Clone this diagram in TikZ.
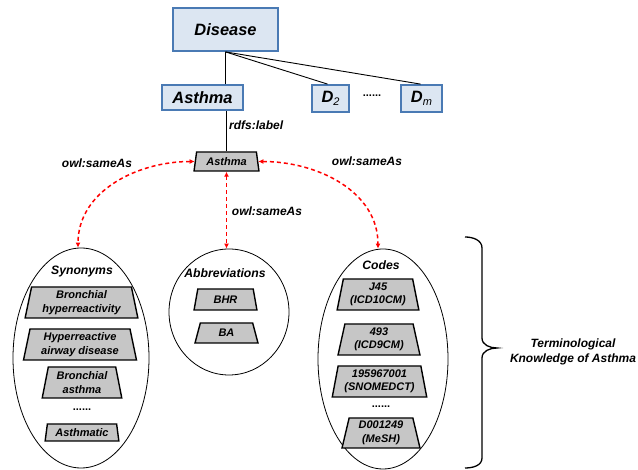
\documentclass[tikz,border=0pt]{standalone}
\usepackage{fontspec}
\setmainfont{Liberation Sans}
\usetikzlibrary{shapes.geometric,arrows.meta}

\definecolor{classfill}{RGB}{220,230,242}
\definecolor{classline}{RGB}{74,122,180}
\definecolor{termfill}{RGB}{198,198,198}
\definecolor{linkred}{RGB}{255,0,0}

\tikzset{
  classbox/.style={draw=classline, line width=1.8pt, fill=classfill,
    inner sep=0pt, font=\fontsize{16.4}{19}\selectfont\bfseries\itshape},
  term/.style={trapezium, trapezium left angle=78, trapezium right angle=78,
    trapezium stretches=true, draw=black, line width=1.4pt, fill=termfill,
    inner sep=0pt, align=center,
    font=\fontsize{11}{13.5}\selectfont\bfseries\itshape},
  group/.style={ellipse, draw=black, line width=0.8pt, inner sep=0pt},
  heading/.style={font=\fontsize{12.2}{14}\selectfont\bfseries\itshape, inner sep=0pt},
  rel/.style={font=\fontsize{12}{14}\selectfont\bfseries\itshape, inner sep=0pt},
  tree/.style={draw=black, line width=0.9pt},
  same/.style={draw=linkred, line width=1.5pt, dash pattern=on 4pt off 3pt,
    {Latex[length=5pt,width=5pt]}-{Latex[length=5pt,width=5pt]}},
  dots/.style={font=\fontsize{11}{12}\selectfont\bfseries, inner sep=0pt}
}

\begin{document}
\begin{tikzpicture}[x=1pt,y=1pt]
\useasboundingbox (0,0) rectangle (638,470);

% ontology classes
\node[classbox, minimum width=105pt, minimum height=43pt] (disease) at (225.5,440.5) {Disease};
\node[classbox, minimum width=81pt, minimum height=25pt] (asthma) at (202.5,372.5) {Asthma};
\node[classbox, minimum width=37pt, minimum height=27pt] (d2) at (330.5,371.5)
  {D\raisebox{-0.35ex}{\fontsize{11}{11}\selectfont\mdseries 2}};
\node[classbox, minimum width=41pt, minimum height=27pt] (dm) at (421.5,371.5)
  {D\raisebox{-0.35ex}{\fontsize{11}{11}\selectfont\mdseries m}};
\node[dots] (ddots) at (372,374) {......};

\coordinate (dtop) at (disease.south);
\draw[tree] (dtop) -- (dtop |- asthma.north);
\draw[tree] (dtop) -- ([xshift=-3pt]d2.north);
\draw[tree] (dtop) -- ([xshift=-1pt]dm.north);

% label of the class
\node[term, minimum width=65pt, minimum height=19pt, font=\fontsize{11}{12}\selectfont\bfseries\itshape] (lab) at (226.5,308.5) {Asthma};
\draw[tree] (lab.north) -- (lab.north |- asthma.south);
\node[rel, anchor=west] (rdfs) at (229,345) {rdfs:label};

% synonyms
\node[group, minimum width=136pt, minimum height=220pt] (syn) at (81,112) {};
\node[heading] (synh) at (82,198) {Synonyms};
\node[term, minimum width=113pt, minimum height=31pt] (s1) at (81.5,167.5) {Bronchial\\hyperreactivity};
\node[term, minimum width=114pt, minimum height=31pt] (s2) at (80,125.5) {Hyperreactive\\airway disease};
\node[term, minimum width=80pt, minimum height=31pt] (s3) at (82,87.5) {Bronchial\\asthma};
\node[dots] (sdots) at (82,60) {......};
\node[term, minimum width=74pt, minimum height=17pt] (s4) at (82,37.5) {Asthmatic};

% abbreviations
\node[group, minimum width=120pt, minimum height=126pt] (abbr) at (229,158) {};
\node[heading] (abbrh) at (225,197) {Abbreviations};
\node[term, minimum width=63pt, minimum height=21pt] (a1) at (225.5,170.5) {BHR};
\node[term, minimum width=63pt, minimum height=20pt] (a2) at (226.5,137) {BA};

% codes
\node[group, minimum width=130pt, minimum height=220pt] (codes) at (383,111) {};
\node[heading] (codesh) at (381,205) {Codes};
\node[term, minimum width=82pt, minimum height=31pt] (c1) at (378,175.5) {J45\\(ICD10CM)};
\node[term, minimum width=82pt, minimum height=31pt] (c2) at (379,130.5) {493\\(ICD9CM)};
\node[term, minimum width=95pt, minimum height=31pt] (c3) at (379.5,88.5) {195967001\\(SNOMEDCT)};
\node[dots] (cdots) at (381,63) {......};
\node[term, minimum width=78pt, minimum height=30pt] (c4) at (381,37) {D001249\\(MeSH)};

% owl:sameAs links
\draw[same] (lab.west) to[out=180, in=90] ([xshift=-3pt]syn.north);
\draw[same] (lab.south) -- (lab.south |- abbr.north);
\draw[same] (lab.east) to[out=0, in=90] ([xshift=-5pt]codes.north);
\node[rel] (sa1) at (97,307) {owl:sameAs};
\node[rel] (sa2) at (367,309) {owl:sameAs};
\node[rel] (sa3) at (267,259) {owl:sameAs};

% brace grouping the terminological knowledge
\draw[line width=1.3pt] (465,233) to[out=0, in=90] (482,222) -- (482,132)
  to[out=-90, in=180] (497,122) to[out=180, in=90] (482,112) -- (482,12)
  to[out=-90, in=0] (465,2);
\node[heading, align=center, font=\fontsize{12}{15}\selectfont\bfseries\itshape] (tk) at (573,118)
  {Terminological\\Knowledge of Asthma};
\end{tikzpicture}
\end{document}
